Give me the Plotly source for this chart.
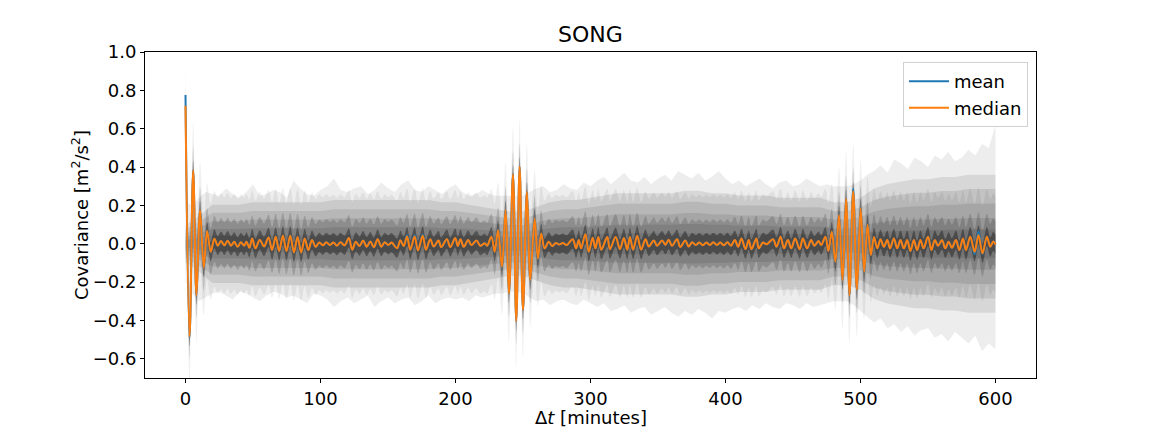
import plotly.graph_objects as go

# ---------------- data ----------------
# median curve: turning points (minutes, m^2/s^2)
median_t = [0.0, 3.0, 5.7, 8.1, 10.8, 13.5, 16.0, 18.7, 21.4, 23.9, 26.3, 28.8, 31.2, 33.7, 36.1, 38.6,
            41.0, 43.4, 45.2, 47.3, 49.4, 51.8, 55.0, 58.2, 61.5, 64.1, 66.8, 69.4, 72.1, 74.8, 77.6, 80.3,
            83.0, 85.7, 88.3, 91.0, 93.7, 96.4, 99.1, 101.7, 104.3, 107.0, 109.6, 112.2, 114.8, 117.8,
            121.0, 123.5, 126.2, 128.9, 131.6, 134.2, 136.9, 139.5, 142.3, 145.0, 147.6, 150.2, 152.6,
            156.7, 159.2, 161.6, 164.1, 166.5, 169.7, 172.2, 175.7, 178.1, 181.3, 183.8, 187.4, 189.4,
            193.6, 196.1, 199.8, 201.7, 203.7, 206.1, 209.4, 211.8, 215.5, 218.4, 221.6, 223.4, 226.6,
            229.0, 231.5, 234.4, 237.1, 239.6, 242.6, 245.0, 247.5, 250.0, 252.9, 255.4, 258.6, 261.0,
            263.5, 266.0, 269.1, 271.6, 274.3, 276.9, 279.5, 282.4, 286.8, 289.3, 291.3, 293.0, 296.2,
            298.7, 301.6, 303.6, 305.8, 308.0, 312.4, 314.4, 318.6, 321.8, 324.7, 327.2, 329.2, 331.6,
            334.6, 337.5, 340.7, 343.2, 346.9, 349.3, 353.0, 355.5, 357.9, 360.4, 364.1, 366.5, 370.2,
            372.7, 375.3, 378.0, 380.6, 383.2, 385.8, 388.4, 391.0, 393.6, 396.2, 398.8, 401.4, 404.0,
            406.9, 409.4, 411.8, 414.8, 417.2, 419.2, 422.9, 424.6, 427.8, 430.3, 435.2, 437.8, 440.8,
            443.3, 446.2, 448.7, 451.6, 454.9, 457.3, 460.5, 463.4, 465.9, 468.9, 470.9, 474.0, 476.2,
            478.7, 481.4, 484.1, 486.7, 489.3, 491.8, 494.6, 497.3, 500.1, 502.7, 505.2, 507.7, 510.0,
            512.4, 514.8, 517.3, 519.8, 521.9, 524.7, 527.2, 529.6, 532.1, 534.6, 537.0, 539.5, 541.9,
            544.4, 546.7, 550.0, 552.5, 555.0, 557.4, 560.4, 562.8, 565.3, 567.7, 570.7, 573.2, 575.9,
            578.1, 581.3, 584.5, 587.4, 590.4, 593.6, 596.1, 598.3, 600.0]
median_v = [0.72, -0.485, 0.384, -0.268, 0.176, -0.125, 0.066, -0.042, 0.026, -0.010, 0.014, -0.008,
            0.016, -0.010, 0.010, -0.016, 0.008, -0.010, 0.010, -0.021, 0.028, -0.024, 0.020, -0.014,
            0.033, -0.033, 0.036, -0.038, 0.042, -0.038, 0.042, -0.045, 0.035, -0.045, 0.028, -0.033,
            0.019, -0.016, 0.007, -0.008, 0.008, -0.006, 0.006, -0.010, 0.008, -0.008, 0.030, -0.031,
            0.010, -0.012, 0.017, -0.015, 0.012, -0.018, 0.024, -0.015, 0.008, -0.006, 0.006, -0.023,
            0.018, -0.012, 0.038, -0.031, 0.038, -0.035, 0.042, -0.031, 0.024, -0.014, 0.017, -0.017,
            0.024, -0.017, 0.030, -0.012, 0.024, -0.016, 0.019, -0.007, 0.017, -0.010, 0.003, -0.010,
            0.037, -0.042, 0.071, -0.120, 0.176, -0.259, 0.362, -0.403, 0.402, -0.346, 0.271, -0.190,
            0.132, -0.077, 0.054, -0.024, 0.010, -0.012, 0.004, -0.004, 0.004, -0.006, 0.024, -0.024,
            0.019, -0.024, 0.049, -0.042, 0.031, -0.024, 0.035, -0.031, 0.035, -0.028, 0.035, -0.028,
            0.030, -0.031, 0.035, -0.031, 0.042, -0.031, 0.024, -0.014, 0.017, -0.010, 0.017, -0.005,
            0.021, -0.010, 0.024, -0.017, 0.017, -0.014, 0.008, -0.006, 0.006, -0.008, 0.006, -0.006,
            0.008, -0.006, 0.006, -0.008, 0.008, -0.010, 0.019, -0.016, 0.028, -0.028, 0.019, -0.028,
            0.028, -0.024, 0.007, -0.003, 0.024, -0.016, 0.037, -0.024, 0.019, -0.024, 0.028, -0.028,
            0.028, -0.024, 0.019, -0.010, 0.014, -0.007, 0.037, -0.038, 0.063, -0.094, 0.150, -0.190,
            0.235, -0.268, 0.272, -0.240, 0.185, -0.146, 0.099, -0.058, 0.035, -0.024, 0.024, -0.016,
            0.019, -0.024, 0.028, -0.024, 0.019, -0.024, 0.019, -0.038, 0.019, -0.033, 0.019, -0.024,
            0.037, -0.033, 0.019, -0.010, 0.019, -0.024, 0.010, -0.021, 0.019, -0.033, 0.028, -0.033,
            0.037, -0.042, 0.045, -0.050, 0.037, -0.016, 0.012, -0.004]

# mean curve: same turning points as the median except where it visibly differs
mean_diff_t = [0.0, 3.0, 164.1, 169.7, 175.7, 494.6, 584.5, 587.4, 590.4]
mean_diff_v = [0.776, -0.492, 0.044, 0.044, 0.048, 0.285, -0.055, 0.065, -0.054]

# extreme envelope of the individual (grey) curves, sampled every 5 minutes
grid5_t = list(range(0, 601, 5))
outer_hi = [0.22, 0.20, 0.24, 0.27, 0.26, 0.25, 0.29, 0.26, 0.24, 0.27, 0.31, 0.25, 0.26, 0.28, 0.27, 0.24,
            0.33, 0.29, 0.26, 0.25, 0.28,
            0.30, 0.34, 0.28, 0.27, 0.29, 0.30, 0.26, 0.28, 0.32, 0.29, 0.27, 0.31, 0.33, 0.28, 0.27, 0.30,
            0.28, 0.26, 0.29, 0.31,
            0.27, 0.25, 0.26, 0.28, 0.26, 0.25, 0.25, 0.25, 0.25, 0.25, 0.27, 0.29, 0.30, 0.27, 0.28, 0.31,
            0.29, 0.28, 0.32, 0.30,
            0.33, 0.35, 0.31, 0.34, 0.37, 0.33, 0.32, 0.35, 0.31, 0.34, 0.36, 0.33, 0.38, 0.36, 0.34, 0.37,
            0.33, 0.35, 0.38, 0.34,
            0.31, 0.33, 0.30, 0.32, 0.34, 0.31, 0.29, 0.32, 0.33, 0.30, 0.31, 0.34, 0.32, 0.30, 0.31, 0.30,
            0.30, 0.30, 0.31, 0.33,
            0.36, 0.38, 0.41, 0.37, 0.44, 0.42, 0.39, 0.45, 0.43, 0.40, 0.46, 0.44, 0.48, 0.43, 0.45, 0.49,
            0.46, 0.52, 0.50, 0.62]
outer_lo = [-0.20, -0.26, -0.30, -0.28, -0.26, -0.25, -0.27, -0.29, -0.25, -0.26, -0.28, -0.30, -0.27,
            -0.25, -0.26, -0.28, -0.27, -0.29, -0.31, -0.26, -0.27,
            -0.29, -0.33, -0.30, -0.28, -0.31, -0.29, -0.27, -0.33, -0.30, -0.28, -0.31, -0.29, -0.28,
            -0.32, -0.30, -0.27, -0.31, -0.29, -0.28, -0.29,
            -0.28, -0.30, -0.27, -0.28, -0.27, -0.26, -0.26, -0.25, -0.25, -0.26, -0.28, -0.30, -0.29,
            -0.32, -0.30, -0.29, -0.31, -0.32, -0.29, -0.31,
            -0.33, -0.31, -0.35, -0.34, -0.32, -0.36, -0.34, -0.33, -0.37, -0.35, -0.33, -0.36, -0.38,
            -0.35, -0.37, -0.34, -0.36, -0.39, -0.35, -0.36,
            -0.34, -0.33, -0.35, -0.32, -0.34, -0.31, -0.33, -0.34, -0.31, -0.32, -0.34, -0.31, -0.33,
            -0.32, -0.31, -0.30, -0.30, -0.30, -0.32, -0.35,
            -0.38, -0.41, -0.39, -0.44, -0.42, -0.46, -0.43, -0.48, -0.45, -0.44, -0.49, -0.47, -0.51,
            -0.46, -0.49, -0.52, -0.48, -0.56, -0.52, -0.55]
# typical spread (std) of the grey curves around zero, sampled every 10 minutes
grid10_t = list(range(0, 601, 10))
spread = [0.040, 0.060, 0.085, 0.085, 0.085, 0.090, 0.090, 0.090, 0.090, 0.090, 0.090, 0.095, 0.095,
          0.095, 0.095, 0.095, 0.095, 0.095, 0.095, 0.090, 0.090, 0.085, 0.080, 0.075, 0.070, 0.070,
          0.080, 0.090, 0.095, 0.095, 0.100, 0.105, 0.110, 0.110, 0.110, 0.110, 0.110, 0.115, 0.115,
          0.110, 0.110, 0.105, 0.105, 0.105, 0.100, 0.100, 0.100, 0.100, 0.090, 0.090, 0.100, 0.120,
          0.130, 0.135, 0.140, 0.140, 0.145, 0.145, 0.150, 0.150, 0.150]
spread_levels = [2.4, 1.9, 1.4, 0.9, 0.5]
# half-widths of the grey tubes that hug the median curve
tube_half = [0.25, 0.12, 0.05]

x_ticks = [0, 100, 200, 300, 400, 500, 600]
y_ticks = [-0.6, -0.4, -0.2, 0.0, 0.2, 0.4, 0.6, 0.8, 1.0]

# ---------------- figure ----------------
FONT = "DejaVu Sans"
fig = go.Figure()


def band(x, lo, hi, color, shape="linear"):
    fig.add_trace(go.Scatter(x=x, y=lo, mode="lines", line=dict(width=0, shape=shape),
                             showlegend=False, hoverinfo="skip"))
    fig.add_trace(go.Scatter(x=x, y=hi, mode="lines", line=dict(width=0, shape=shape),
                             fill="tonexty", fillcolor=color, showlegend=False, hoverinfo="skip"))


band(grid5_t, outer_lo, outer_hi, "rgba(0,0,0,0.07)")
for k in spread_levels:
    band(grid10_t, [-k * s for s in spread], [k * s for s in spread], "rgba(0,0,0,0.09)")

for w, a in zip(tube_half, [0.06, 0.15, 0.35]):
    band(median_t, [v - w for v in median_v], [v + w for v in median_v], f"rgba(0,0,0,{a})", "spline")

mean_v = list(median_v)
for t, v in zip(mean_diff_t, mean_diff_v):
    mean_v[median_t.index(t)] = v

fig.add_trace(go.Scatter(x=median_t, y=mean_v, mode="lines", name="mean", legendgroup="a",
                         line=dict(color="#1f77b4", width=2, shape="spline")))
fig.add_trace(go.Scatter(x=median_t, y=median_v, mode="lines", name="median", legendgroup="b",
                         line=dict(color="#ff7f0e", width=2, shape="spline")))

axis_common = dict(showgrid=False, zeroline=False, showline=True, mirror=True, linecolor="black",
                   linewidth=1, ticks="outside", ticklen=4, tickwidth=1, tickcolor="black",
                   automargin=False, tickfont=dict(family=FONT, size=18, color="black"))

fig.update_layout(
    width=1152, height=432,
    margin=dict(l=145, r=116, t=52, b=54),
    plot_bgcolor="white", paper_bgcolor="white",
    font=dict(family=FONT, size=18, color="black"),
    xaxis=dict(range=[-30, 630], tickvals=x_ticks, ticktext=[str(v) for v in x_ticks], **axis_common),
    yaxis=dict(range=[-0.7, 1.0], tickvals=y_ticks, tickformat=".1f", **axis_common),
    legend=dict(x=0.991, y=0.969, xanchor="right", yanchor="top", bgcolor="rgba(255,255,255,0.85)",
                bordercolor="#d0d0d0", borderwidth=1, font=dict(family=FONT, size=18),
                tracegroupgap=0, itemwidth=40),
    annotations=[
        dict(text="SONG", x=0.5, y=1.0, xref="paper", yref="paper", xanchor="center",
             yanchor="bottom", yshift=3, showarrow=False, font=dict(family=FONT, size=22)),
        dict(text="Δ<i>t</i> [minutes]", x=0.5, y=-0.12, xref="paper", yref="paper", xanchor="center",
             yanchor="middle", showarrow=False, font=dict(family=FONT, size=18)),
        dict(text="Covariance [m<sup>2</sup>/s<sup>2</sup>]", x=-0.073, y=0.5, xref="paper", yref="paper",
             xanchor="center", yanchor="middle", textangle=-90, showarrow=False,
             font=dict(family=FONT, size=18)),
    ],
)

fig.write_html("out.html")
